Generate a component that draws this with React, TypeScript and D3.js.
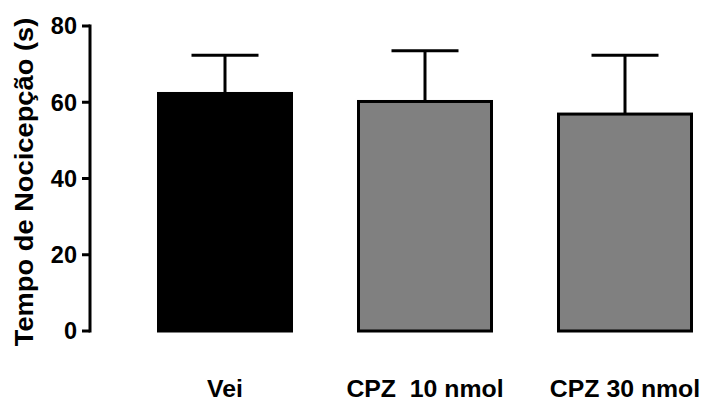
import React from "react";
import * as d3 from "d3";

const categories = ["Vei", "CPZ  10 nmol", "CPZ 30 nmol"];
const means = [62.3, 60.2, 56.9];
const sems = [10.0, 13.3, 15.4];
const fills = ["#000000", "#808080", "#808080"];
const yTicks = [0, 20, 40, 60, 80];
const yLabel = "Tempo de Nocicepção (s)";

const W = 706;
const H = 402;
const FONT = "'Liberation Sans', Arial, Helvetica, sans-serif";

export default function App() {
  const x = d3
    .scaleBand<string>()
    .domain(categories)
    .range([125, 725])
    .paddingInner(0.335)
    .paddingOuter(0.1675);
  const y = d3.scaleLinear().domain([0, 80]).range([331, 26]);
  const axisX = 90;
  const capHalf = 33.5;

  return (
    <svg
      width={W}
      height={H}
      style={{ position: "absolute", left: 0, top: 0, background: "#fff" }}
      fontFamily={FONT}
    >
      {/* y axis */}
      <line x1={axisX} x2={axisX} y1={y(0) + 1.5} y2={y(80) - 1.5} stroke="#000" strokeWidth={3} />
      {yTicks.map((t) => (
        <g key={t}>
          <line x1={axisX - 8} x2={axisX} y1={y(t)} y2={y(t)} stroke="#000" strokeWidth={3} />
          <text
            x={axisX - 13}
            y={y(t)}
            dy="0.36em"
            textAnchor="end"
            fontSize={23.5}
            fontWeight="bold"
          >
            {t}
          </text>
        </g>
      ))}
      <text
        transform={`translate(33,182) rotate(-90) scale(1.05,1)`}
        textAnchor="middle"
        fontSize={26}
        fontWeight="bold"
      >
        {yLabel}
      </text>

      {/* bars with error bars */}
      {categories.map((c, i) => {
        const bx = x(c)!;
        const bw = x.bandwidth();
        const cx = bx + bw / 2;
        const top = y(means[i]);
        const errTop = y(means[i] + sems[i]);
        return (
          <g key={c}>
            <line x1={cx} x2={cx} y1={top} y2={errTop} stroke="#000" strokeWidth={3} />
            <line x1={cx - capHalf} x2={cx + capHalf} y1={errTop} y2={errTop} stroke="#000" strokeWidth={3} />
            <rect
              x={bx}
              y={top}
              width={bw}
              height={y(0) - top}
              fill={fills[i]}
              stroke="#000"
              strokeWidth={3}
            />
            <text
              transform={`translate(${cx},397) scale(1.08,1)`}
              textAnchor="middle"
              fontSize={23}
              fontWeight="bold"
              style={{ whiteSpace: "pre" }}
              xmlSpace="preserve"
            >
              {c}
            </text>
          </g>
        );
      })}
    </svg>
  );
}
